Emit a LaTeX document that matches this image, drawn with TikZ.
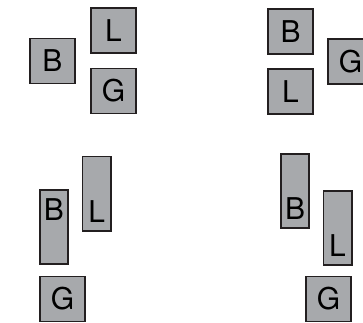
\documentclass[tikz,border=0pt]{standalone}
\usepackage{fontspec}
\setmainfont{TeX Gyre Heros}
\definecolor{boxgray}{RGB}{167,169,172}
\definecolor{edge}{RGB}{35,31,32}
\tikzset{
  sq/.style={draw=edge,fill=boxgray,line width=1.7pt,inner sep=0pt,minimum width=45.3pt,minimum height=44.8pt},
  tall/.style={sq,minimum width=28.3pt,minimum height=74.3pt},
  toplbl/.style={anchor=north,inner sep=0pt,yshift=-9pt},
  botlbl/.style={anchor=south,inner sep=0pt,yshift=9pt}
}
\begin{document}
\begin{tikzpicture}[x=1pt,y=-1pt,font=\fontsize{30}{30}\selectfont]
  \useasboundingbox (0,0) rectangle (363,322);
  \clip (0,0) rectangle (363,322);
  % top left
  \node[sq] (tlB) at (52.5,61) {B};
  \node[sq] (tlL) at (113.5,30.5) {L};
  \node[sq] (tlG) at (113.5,91) {G};
  % top right
  \node[sq] (trB) at (290.5,31.5) {B};
  \node[sq] (trL) at (290.5,91.5) {L};
  \node[sq] (trG) at (350.5,61.5) {G};
  % bottom left
  \node[tall,label={[toplbl]north:B}] (blB) at (54,227) {};
  \node[tall,label={[botlbl]south:L}] (blL) at (96.7,193.5) {};
  \node[sq] (blG) at (62.5,299) {G};
  % bottom right
  \node[tall,label={[botlbl]south:B}] (brB) at (295,191) {};
  \node[tall,label={[botlbl]south:L}] (brL) at (337.5,228) {};
  \node[sq] (brG) at (328.5,299) {G};
\end{tikzpicture}
\end{document}
